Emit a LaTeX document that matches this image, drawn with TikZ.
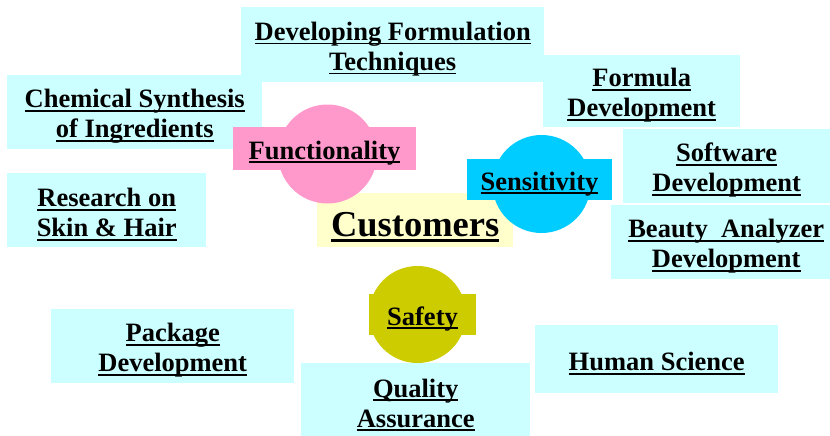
\documentclass[tikz,border=0pt]{standalone}
\usepackage{fontspec}
\setmainfont{Liberation Serif}[BoldFont={Liberation Serif Bold}]
\definecolor{lcyan}{HTML}{CCFFFF}
\definecolor{pinkc}{HTML}{FF99CC}
\definecolor{bluec}{HTML}{00CCFF}
\definecolor{olivec}{HTML}{CCCC00}
\definecolor{yellowc}{HTML}{FFFFCC}
\newsavebox\ulbox
\newcommand\ulw[1]{\sbox\ulbox{#1}\rlap{\rule[-4pt]{\wd\ulbox}{1.8pt}}\usebox\ulbox}
\newcommand\ulf[1]{\rule{0pt}{27pt}\ulw{#1}}
\newcommand\ulbig[1]{\sbox\ulbox{#1}\rule{0pt}{38pt}\rlap{\rule[-5pt]{\wd\ulbox}{2.5pt}}\usebox\ulbox}
\begin{document}
\begin{tikzpicture}[x=1pt,y=-1pt,
  every node/.style={inner sep=0pt, align=center, font=\bfseries\fontsize{26.5}{30}\selectfont},
  box/.style={rectangle, fill=lcyan, anchor=north west},
  tagc/.style={circle, minimum size=#1},
  tagr/.style={rectangle}]
\useasboundingbox (0,0) rectangle (830,436);
% cyan boxes
\node[box, minimum width=303pt, minimum height=75pt] (dev) at (241,7) {\ulf{Developing Formulation}\\\ulw{Techniques}};
\node[box, minimum width=255pt, minimum height=74pt] (chem) at (7,75) {\ulf{Chemical Synthesis}\\\ulw{of Ingredients}};
\node[box, minimum width=197pt, minimum height=72pt] (form) at (543,55) {\ulf{Formula}\\\ulw{Development}};
\node[box, minimum width=199pt, minimum height=74pt] (res) at (7,173) {\ulf{Research on}\\\ulw{Skin \& Hair}};
\node[box, minimum width=207pt, minimum height=74pt] (soft) at (623,129) {\ulf{Software}\\\ulw{Development}};
\node[box, minimum width=230pt, minimum height=74pt] (beauty) at (611,205) {\ulf{Beauty\ \ Analyzer}\\\ulw{Development}};
\node[box, minimum width=243pt, minimum height=74pt] (pack) at (51,309) {\ulf{Package}\\\ulw{Development}};
\node[box, minimum width=243pt, minimum height=68pt] (human) at (535,325) {\ulf{Human Science}};
\node[box, minimum width=229pt, minimum height=75pt] (qa) at (301,363) {\ulf{Quality}\\\ulw{Assurance}};
% customers
\node[rectangle, fill=yellowc, anchor=north west, minimum width=196pt, minimum height=54pt,
      font=\bfseries\fontsize{36.5}{40}\selectfont] (cust) at (317,193) {\ulbig{Customers}};
% tags
\node[tagc=99pt, fill=pinkc] (fcirc) at (327.5,154) {};
\node[tagr, fill=pinkc, minimum width=183pt, minimum height=43pt] (func) at (324.5,148.5) {\ulf{Functionality}};
\node[tagc=98pt, fill=bluec] (scirc) at (541.5,184) {};
\node[tagr, fill=bluec, minimum width=145pt, minimum height=41pt] (sens) at (539.5,179.5) {\ulf{Sensitivity}};
\node[tagc=97pt, fill=olivec] (sfcirc) at (417.5,314.5) {};
\node[tagr, fill=olivec, minimum width=107pt, minimum height=41pt] (safe) at (422.5,314.5) {\ulf{Safety}};
\end{tikzpicture}
\end{document}
